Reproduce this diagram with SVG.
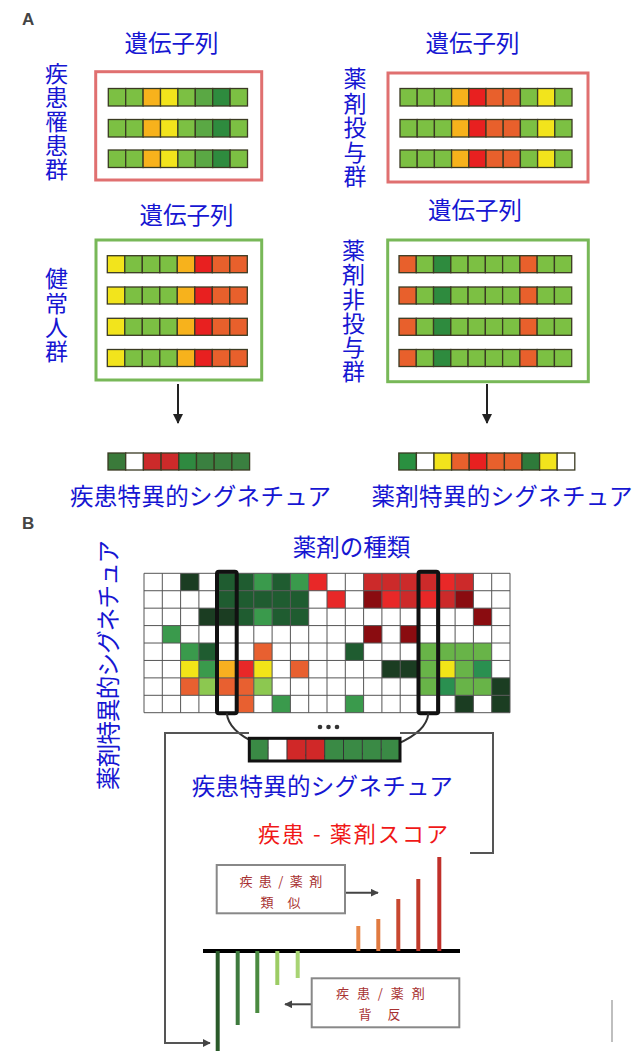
<svg xmlns="http://www.w3.org/2000/svg" width="638" height="1051" viewBox="0 0 638 1051">
<style>
.bt{font-family:"Noto Sans CJK JP","Noto Sans",sans-serif;font-size:23.5px;fill:#1616d2}
.vt{font-family:"Noto Sans CJK JP","Noto Sans",sans-serif;font-size:23px;fill:#1616d2;writing-mode:vertical-rl}
.rt{font-family:"Noto Sans CJK JP","Noto Sans",sans-serif;font-size:22px;fill:#f01818}
.bx{font-family:"Noto Sans CJK JP","Noto Sans",sans-serif;font-size:13px;fill:#a83232;text-anchor:middle}
.lbl{font-family:"Liberation Sans",Arial,sans-serif;font-size:17px;font-weight:bold;fill:#444}
.cl rect{stroke:#3a3a22;stroke-width:1.3}
.lg{fill:#7cc043}.mg{fill:#5aa844}.dg{fill:#2e8b3e}.or{fill:#f7b21c}.ye{fill:#f2e41c}.rd{fill:#e82020}.orr{fill:#e8602c}.wh{fill:#ffffff}
.hm rect{stroke:none}
.vd{fill:#1b3d22}.hdg{fill:#1f5c30}.hmg{fill:#3a9a4c}.hbr{fill:#e82828}.hrd{fill:#cc2a2a}.hmr{fill:#8a0c10}.hlg{fill:#68b448}.hll{fill:#8cc850}.hg2{fill:#2a9050}.hye{fill:#f2e418}.hor{fill:#f8b020}.hoo{fill:#e86030}
.conn{fill:none;stroke:#555;stroke-width:2}
</style>
<defs>
<marker id="ah" viewBox="0 0 10 10" refX="9" refY="5" markerWidth="5" markerHeight="5" orient="auto"><path d="M0,0 L10,5 L0,10 z" fill="#222"/></marker>
<marker id="ah2" viewBox="0 0 10 10" refX="9" refY="5" markerWidth="4" markerHeight="4" orient="auto"><path d="M0,0 L10,5 L0,10 z" fill="#444"/></marker>
</defs>
<rect width="638" height="1051" fill="#ffffff"/>
<text class="lbl" x="22" y="25">A</text>
<text class="lbl" x="22" y="529">B</text>

<g id="disease-group">
<text class="bt" x="171.5" y="51.5" text-anchor="middle">遺伝子列</text>
<text class="vt" x="56.5" y="62" letter-spacing="1">疾患罹患群</text>
<rect x="95.7" y="71.7" width="166" height="108.3" fill="#fff" stroke="#e07070" stroke-width="3"/>
<g class="cl">
<g transform="translate(108.3,88.5)"><rect class="lg" x="0" width="17.4" height="17.5"/><rect class="lg" x="17.4" width="17.4" height="17.5"/><rect class="or" x="34.8" width="17.4" height="17.5"/><rect class="ye" x="52.2" width="17.4" height="17.5"/><rect class="lg" x="69.6" width="17.4" height="17.5"/><rect class="mg" x="87" width="17.4" height="17.5"/><rect class="dg" x="104.4" width="17.4" height="17.5"/><rect class="lg" x="121.8" width="17.4" height="17.5"/></g>
<g transform="translate(108.3,119.5)"><rect class="lg" x="0" width="17.4" height="17.5"/><rect class="lg" x="17.4" width="17.4" height="17.5"/><rect class="or" x="34.8" width="17.4" height="17.5"/><rect class="ye" x="52.2" width="17.4" height="17.5"/><rect class="lg" x="69.6" width="17.4" height="17.5"/><rect class="mg" x="87" width="17.4" height="17.5"/><rect class="dg" x="104.4" width="17.4" height="17.5"/><rect class="lg" x="121.8" width="17.4" height="17.5"/></g>
<g transform="translate(108.3,150)"><rect class="lg" x="0" width="17.4" height="17.5"/><rect class="lg" x="17.4" width="17.4" height="17.5"/><rect class="or" x="34.8" width="17.4" height="17.5"/><rect class="ye" x="52.2" width="17.4" height="17.5"/><rect class="lg" x="69.6" width="17.4" height="17.5"/><rect class="mg" x="87" width="17.4" height="17.5"/><rect class="dg" x="104.4" width="17.4" height="17.5"/><rect class="lg" x="121.8" width="17.4" height="17.5"/></g>
</g>
</g>

<g id="drug-group">
<text class="bt" x="472.5" y="51.5" text-anchor="middle">遺伝子列</text>
<text class="vt" x="355" y="67" letter-spacing="1.5">薬剤投与群</text>
<rect x="388" y="73" width="200" height="109" fill="#fff" stroke="#e07070" stroke-width="3"/>
<g class="cl">
<g transform="translate(400,88.5)"><rect class="lg" x="0" width="17.2" height="17.5"/><rect class="lg" x="17.2" width="17.2" height="17.5"/><rect class="lg" x="34.4" width="17.2" height="17.5"/><rect class="or" x="51.6" width="17.2" height="17.5"/><rect class="rd" x="68.8" width="17.2" height="17.5"/><rect class="orr" x="86" width="17.2" height="17.5"/><rect class="orr" x="103.2" width="17.2" height="17.5"/><rect class="lg" x="120.4" width="17.2" height="17.5"/><rect class="ye" x="137.6" width="17.2" height="17.5"/><rect class="lg" x="154.8" width="17.2" height="17.5"/></g>
<g transform="translate(400,119.5)"><rect class="lg" x="0" width="17.2" height="17.5"/><rect class="lg" x="17.2" width="17.2" height="17.5"/><rect class="lg" x="34.4" width="17.2" height="17.5"/><rect class="or" x="51.6" width="17.2" height="17.5"/><rect class="rd" x="68.8" width="17.2" height="17.5"/><rect class="orr" x="86" width="17.2" height="17.5"/><rect class="orr" x="103.2" width="17.2" height="17.5"/><rect class="lg" x="120.4" width="17.2" height="17.5"/><rect class="ye" x="137.6" width="17.2" height="17.5"/><rect class="lg" x="154.8" width="17.2" height="17.5"/></g>
<g transform="translate(400,150)"><rect class="lg" x="0" width="17.2" height="17.5"/><rect class="lg" x="17.2" width="17.2" height="17.5"/><rect class="lg" x="34.4" width="17.2" height="17.5"/><rect class="or" x="51.6" width="17.2" height="17.5"/><rect class="rd" x="68.8" width="17.2" height="17.5"/><rect class="orr" x="86" width="17.2" height="17.5"/><rect class="orr" x="103.2" width="17.2" height="17.5"/><rect class="lg" x="120.4" width="17.2" height="17.5"/><rect class="ye" x="137.6" width="17.2" height="17.5"/><rect class="lg" x="154.8" width="17.2" height="17.5"/></g>
</g>
</g>

<g id="healthy-group">
<text class="bt" x="186.5" y="223.5" text-anchor="middle">遺伝子列</text>
<text class="vt" x="56.5" y="267" letter-spacing="1.3">健常人群</text>
<rect x="96" y="240" width="165.7" height="140" fill="#fff" stroke="#78b858" stroke-width="3"/>
<g class="cl">
<g transform="translate(107.3,255.7)"><rect class="ye" x="0" width="17.5" height="17"/><rect class="lg" x="17.5" width="17.5" height="17"/><rect class="lg" x="35" width="17.5" height="17"/><rect class="lg" x="52.5" width="17.5" height="17"/><rect class="or" x="70" width="17.5" height="17"/><rect class="rd" x="87.5" width="17.5" height="17"/><rect class="orr" x="105" width="17.5" height="17"/><rect class="orr" x="122.5" width="17.5" height="17"/></g>
<g transform="translate(107.3,287)"><rect class="ye" x="0" width="17.5" height="17"/><rect class="lg" x="17.5" width="17.5" height="17"/><rect class="lg" x="35" width="17.5" height="17"/><rect class="lg" x="52.5" width="17.5" height="17"/><rect class="or" x="70" width="17.5" height="17"/><rect class="rd" x="87.5" width="17.5" height="17"/><rect class="orr" x="105" width="17.5" height="17"/><rect class="orr" x="122.5" width="17.5" height="17"/></g>
<g transform="translate(107.3,318.3)"><rect class="ye" x="0" width="17.5" height="17"/><rect class="lg" x="17.5" width="17.5" height="17"/><rect class="lg" x="35" width="17.5" height="17"/><rect class="lg" x="52.5" width="17.5" height="17"/><rect class="or" x="70" width="17.5" height="17"/><rect class="rd" x="87.5" width="17.5" height="17"/><rect class="orr" x="105" width="17.5" height="17"/><rect class="orr" x="122.5" width="17.5" height="17"/></g>
<g transform="translate(107.3,349.5)"><rect class="ye" x="0" width="17.5" height="17"/><rect class="lg" x="17.5" width="17.5" height="17"/><rect class="lg" x="35" width="17.5" height="17"/><rect class="lg" x="52.5" width="17.5" height="17"/><rect class="or" x="70" width="17.5" height="17"/><rect class="rd" x="87.5" width="17.5" height="17"/><rect class="orr" x="105" width="17.5" height="17"/><rect class="orr" x="122.5" width="17.5" height="17"/></g>
</g>
</g>

<g id="nondrug-group">
<text class="bt" x="475" y="218.5" text-anchor="middle">遺伝子列</text>
<text class="vt" x="353.5" y="239" letter-spacing="1.2">薬剤非投与群</text>
<rect x="387.7" y="240" width="200.6" height="141.7" fill="#fff" stroke="#78b858" stroke-width="3"/>
<g class="cl">
<g transform="translate(399,255.7)"><rect class="orr" x="0" width="17.27" height="17"/><rect class="lg" x="17.27" width="17.27" height="17"/><rect class="dg" x="34.54" width="17.27" height="17"/><rect class="lg" x="51.81" width="17.27" height="17"/><rect class="lg" x="69.08" width="17.27" height="17"/><rect class="lg" x="86.35" width="17.27" height="17"/><rect class="lg" x="103.62" width="17.27" height="17"/><rect class="orr" x="120.89" width="17.27" height="17"/><rect class="lg" x="138.16" width="17.27" height="17"/><rect class="lg" x="155.43" width="17.27" height="17"/></g>
<g transform="translate(399,287)"><rect class="orr" x="0" width="17.27" height="17"/><rect class="lg" x="17.27" width="17.27" height="17"/><rect class="dg" x="34.54" width="17.27" height="17"/><rect class="lg" x="51.81" width="17.27" height="17"/><rect class="lg" x="69.08" width="17.27" height="17"/><rect class="lg" x="86.35" width="17.27" height="17"/><rect class="lg" x="103.62" width="17.27" height="17"/><rect class="orr" x="120.89" width="17.27" height="17"/><rect class="lg" x="138.16" width="17.27" height="17"/><rect class="lg" x="155.43" width="17.27" height="17"/></g>
<g transform="translate(399,318.3)"><rect class="orr" x="0" width="17.27" height="17"/><rect class="lg" x="17.27" width="17.27" height="17"/><rect class="dg" x="34.54" width="17.27" height="17"/><rect class="lg" x="51.81" width="17.27" height="17"/><rect class="lg" x="69.08" width="17.27" height="17"/><rect class="lg" x="86.35" width="17.27" height="17"/><rect class="lg" x="103.62" width="17.27" height="17"/><rect class="orr" x="120.89" width="17.27" height="17"/><rect class="lg" x="138.16" width="17.27" height="17"/><rect class="lg" x="155.43" width="17.27" height="17"/></g>
<g transform="translate(399,349.5)"><rect class="orr" x="0" width="17.27" height="17"/><rect class="lg" x="17.27" width="17.27" height="17"/><rect class="dg" x="34.54" width="17.27" height="17"/><rect class="lg" x="51.81" width="17.27" height="17"/><rect class="lg" x="69.08" width="17.27" height="17"/><rect class="lg" x="86.35" width="17.27" height="17"/><rect class="lg" x="103.62" width="17.27" height="17"/><rect class="orr" x="120.89" width="17.27" height="17"/><rect class="lg" x="138.16" width="17.27" height="17"/><rect class="lg" x="155.43" width="17.27" height="17"/></g>
</g>
</g>

<g id="disease-signature">
<g class="cl" transform="translate(108,453)"><rect fill="#3a7a3a" x="0" width="17.7" height="17"/><rect class="wh" x="17.7" width="17.7" height="17"/><rect fill="#cc2a2a" x="35.4" width="17.7" height="17"/><rect fill="#cc2a2a" x="53.1" width="17.7" height="17"/><rect fill="#2f8a40" x="70.8" width="17.7" height="17"/><rect fill="#3a8040" x="88.5" width="17.7" height="17"/><rect fill="#3a8040" x="106.2" width="17.7" height="17"/><rect fill="#3a8040" x="123.9" width="17.7" height="17"/></g>
<text class="bt" x="200.5" y="504.5" text-anchor="middle" textLength="261">疾患特異的シグネチュア</text>
</g>
<g id="drug-signature">
<g class="cl" transform="translate(398.8,453)"><rect fill="#2a9040" x="0" width="17.6" height="17"/><rect class="wh" x="17.6" width="17.6" height="17"/><rect class="ye" x="35.2" width="17.6" height="17"/><rect class="orr" x="52.8" width="17.6" height="17"/><rect class="rd" x="70.4" width="17.6" height="17"/><rect class="orr" x="88" width="17.6" height="17"/><rect class="orr" x="105.6" width="17.6" height="17"/><rect fill="#2e7a3a" x="123.2" width="17.6" height="17"/><rect class="ye" x="140.8" width="17.6" height="17"/><rect class="wh" x="158.4" width="17.6" height="17"/></g>
<text class="bt" x="502" y="504.5" text-anchor="middle" textLength="261">薬剤特異的シグネチュア</text>
</g>

<g id="heatmap">
<text class="bt" x="351.5" y="555.5" text-anchor="middle">薬剤の種類</text>
<text class="bt" transform="translate(117,665) rotate(-90)" text-anchor="middle" textLength="250">薬剤特異的シグネチュア</text>
<rect x="144" y="573.3" width="366" height="139.4" fill="#fff"/>
<g class="hm" transform="translate(144,573.3)">
<rect class="vd" x="36.6" y="0" width="18.3" height="17.43"/><rect class="hdg" x="73.2" y="0" width="18.3" height="17.43"/><rect class="hdg" x="91.5" y="0" width="18.3" height="17.43"/><rect class="hmg" x="109.8" y="0" width="18.3" height="17.43"/><rect class="hdg" x="128.1" y="0" width="18.3" height="17.43"/><rect class="hmg" x="146.4" y="0" width="18.3" height="17.43"/><rect class="hbr" x="164.7" y="0" width="18.3" height="17.43"/><rect class="hrd" x="219.6" y="0" width="18.3" height="17.43"/><rect class="hrd" x="237.9" y="0" width="18.3" height="17.43"/><rect class="hrd" x="256.2" y="0" width="18.3" height="17.43"/><rect class="hrd" x="274.5" y="0" width="18.3" height="17.43"/><rect class="hbr" x="292.8" y="0" width="18.3" height="17.43"/><rect class="hrd" x="311.1" y="0" width="18.3" height="17.43"/>
<rect class="hdg" x="73.2" y="17.43" width="18.3" height="17.43"/><rect class="hdg" x="91.5" y="17.43" width="18.3" height="17.43"/><rect class="hdg" x="109.8" y="17.43" width="18.3" height="17.43"/><rect class="hdg" x="128.1" y="17.43" width="18.3" height="17.43"/><rect class="hdg" x="146.4" y="17.43" width="18.3" height="17.43"/><rect class="hbr" x="183" y="17.43" width="18.3" height="17.43"/><rect class="hmr" x="219.6" y="17.43" width="18.3" height="17.43"/><rect class="hbr" x="237.9" y="17.43" width="18.3" height="17.43"/><rect class="hrd" x="256.2" y="17.43" width="18.3" height="17.43"/><rect class="hbr" x="274.5" y="17.43" width="18.3" height="17.43"/><rect class="hrd" x="292.8" y="17.43" width="18.3" height="17.43"/><rect class="hmr" x="311.1" y="17.43" width="18.3" height="17.43"/>
<rect class="vd" x="54.9" y="34.86" width="18.3" height="17.43"/><rect class="vd" x="73.2" y="34.86" width="18.3" height="17.43"/><rect class="hdg" x="91.5" y="34.86" width="18.3" height="17.43"/><rect class="hmg" x="109.8" y="34.86" width="18.3" height="17.43"/><rect class="hdg" x="128.1" y="34.86" width="18.3" height="17.43"/><rect class="hdg" x="146.4" y="34.86" width="18.3" height="17.43"/><rect class="hmr" x="329.4" y="34.86" width="18.3" height="17.43"/>
<rect class="hmg" x="18.3" y="52.29" width="18.3" height="17.43"/><rect class="hmr" x="219.6" y="52.29" width="18.3" height="17.43"/><rect class="hmr" x="256.2" y="52.29" width="18.3" height="17.43"/>
<rect class="hmg" x="36.6" y="69.72" width="18.3" height="17.43"/><rect class="hdg" x="54.9" y="69.72" width="18.3" height="17.43"/><rect class="hoo" x="109.8" y="69.72" width="18.3" height="17.43"/><rect class="hdg" x="201.3" y="69.72" width="18.3" height="17.43"/><rect class="hlg" x="274.5" y="69.72" width="18.3" height="17.43"/><rect class="hlg" x="292.8" y="69.72" width="18.3" height="17.43"/><rect class="hlg" x="311.1" y="69.72" width="18.3" height="17.43"/><rect class="hlg" x="329.4" y="69.72" width="18.3" height="17.43"/>
<rect class="hye" x="36.6" y="87.15" width="18.3" height="17.43"/><rect class="hmg" x="54.9" y="87.15" width="18.3" height="17.43"/><rect class="hor" x="73.2" y="87.15" width="18.3" height="17.43"/><rect class="hbr" x="91.5" y="87.15" width="18.3" height="17.43"/><rect class="hye" x="109.8" y="87.15" width="18.3" height="17.43"/><rect class="hoo" x="146.4" y="87.15" width="18.3" height="17.43"/><rect class="vd" x="237.9" y="87.15" width="18.3" height="17.43"/><rect class="vd" x="256.2" y="87.15" width="18.3" height="17.43"/><rect class="hlg" x="274.5" y="87.15" width="18.3" height="17.43"/><rect class="hye" x="292.8" y="87.15" width="18.3" height="17.43"/><rect class="hlg" x="311.1" y="87.15" width="18.3" height="17.43"/><rect class="hg2" x="329.4" y="87.15" width="18.3" height="17.43"/>
<rect class="hoo" x="36.6" y="104.58" width="18.3" height="17.43"/><rect class="hll" x="54.9" y="104.58" width="18.3" height="17.43"/><rect class="hoo" x="73.2" y="104.58" width="18.3" height="17.43"/><rect class="hoo" x="91.5" y="104.58" width="18.3" height="17.43"/><rect class="hll" x="109.8" y="104.58" width="18.3" height="17.43"/><rect class="hlg" x="274.5" y="104.58" width="18.3" height="17.43"/><rect class="hg2" x="292.8" y="104.58" width="18.3" height="17.43"/><rect class="hlg" x="311.1" y="104.58" width="18.3" height="17.43"/><rect class="hlg" x="329.4" y="104.58" width="18.3" height="17.43"/><rect class="vd" x="347.7" y="104.58" width="18.3" height="17.43"/>
<rect class="hoo" x="91.5" y="122.01" width="18.3" height="17.43"/><rect class="hmg" x="128.1" y="122.01" width="18.3" height="17.43"/><rect class="hmg" x="201.3" y="122.01" width="18.3" height="17.43"/><rect class="vd" x="311.1" y="122.01" width="18.3" height="17.43"/><rect class="vd" x="347.7" y="122.01" width="18.3" height="17.43"/>
<path d="M0,0V139.4M18.3,0V139.4M36.6,0V139.4M54.9,0V139.4M73.2,0V139.4M91.5,0V139.4M109.8,0V139.4M128.1,0V139.4M146.4,0V139.4M164.7,0V139.4M183,0V139.4M201.3,0V139.4M219.6,0V139.4M237.9,0V139.4M256.2,0V139.4M274.5,0V139.4M292.8,0V139.4M311.1,0V139.4M329.4,0V139.4M347.7,0V139.4M366,0V139.4M0,0H366M0,17.43H366M0,34.86H366M0,52.29H366M0,69.72H366M0,87.15H366M0,104.58H366M0,122.01H366M0,139.4H366" stroke="#555" stroke-width="1" fill="none"/>
</g>
<rect x="217" y="571.7" width="19.7" height="141.6" rx="2" fill="none" stroke="#111" stroke-width="4"/>
<rect x="418.5" y="571.7" width="19.7" height="141.6" rx="2" fill="none" stroke="#111" stroke-width="4"/>
</g>

<g id="connectors">
<line x1="178" y1="384" x2="178" y2="423" stroke="#222" stroke-width="2" marker-end="url(#ah)"/>
<line x1="487" y1="384" x2="487" y2="423" stroke="#222" stroke-width="2" marker-end="url(#ah)"/>
<path d="M226.8,713.3 A100.9,45 0 0 0 428.4,713.3" fill="none" stroke="#333" stroke-width="2"/>
<path class="conn" d="M249,733 H165 V1043 H210" marker-end="url(#ah2)"/>
<path class="conn" d="M400,733 H493 V853 H470"/>
<line x1="345" y1="892.7" x2="378" y2="892.7" stroke="#444" stroke-width="2" marker-end="url(#ah2)"/>
<line x1="311.7" y1="1004.3" x2="285" y2="1004.3" stroke="#444" stroke-width="2" marker-end="url(#ah2)"/>
</g>

<g id="combined-signature">
<circle cx="320" cy="727" r="2.3" fill="#333"/><circle cx="328.5" cy="727" r="2.3" fill="#333"/><circle cx="337" cy="727" r="2.3" fill="#333"/>
<g transform="translate(249.3,738.3)"><rect fill="#3a8a45" x="0" width="18.84" height="22.7"/><rect fill="#fff" x="18.84" width="18.84" height="22.7"/><rect fill="#d02828" x="37.68" width="18.84" height="22.7"/><rect fill="#d02828" x="56.52" width="18.84" height="22.7"/><rect fill="#3a8a45" x="75.36" width="18.84" height="22.7"/><rect fill="#3a8a45" x="94.2" width="18.84" height="22.7"/><rect fill="#3a8a45" x="113.04" width="18.84" height="22.7"/><rect fill="#3a8a45" x="131.88" width="18.84" height="22.7"/><path d="M18.84,0V22.7M37.68,0V22.7M56.52,0V22.7M75.36,0V22.7M94.2,0V22.7M113.04,0V22.7M131.88,0V22.7" stroke="#333" stroke-width="1"/><rect x="0" y="0" width="150.7" height="22.7" fill="none" stroke="#111" stroke-width="3"/></g>
<text class="bt" x="322.3" y="795" text-anchor="middle" textLength="261">疾患特異的シグネチュア</text>
<text class="rt" x="353" y="842" text-anchor="middle" textLength="190">疾患 - 薬剤スコア</text>
</g>

<g id="score-chart">
<line x1="203" y1="951" x2="460" y2="951" stroke="#000" stroke-width="4"/>
<g stroke-width="4">
<line x1="358.3" y1="951" x2="358.3" y2="926" stroke="#e8884a"/>
<line x1="378.3" y1="951" x2="378.3" y2="919" stroke="#e07a40"/>
<line x1="398.3" y1="951" x2="398.3" y2="899" stroke="#c84830"/>
<line x1="418.3" y1="951" x2="418.3" y2="879" stroke="#c03a2a"/>
<line x1="439.3" y1="951" x2="439.3" y2="857" stroke="#c0302a"/>
<line x1="217.7" y1="951" x2="217.7" y2="1051" stroke="#2a5a2a"/>
<line x1="237.7" y1="951" x2="237.7" y2="1025" stroke="#3e7a3e"/>
<line x1="257.3" y1="951" x2="257.3" y2="1013" stroke="#4a8a40"/>
<line x1="277.3" y1="951" x2="277.3" y2="985" stroke="#9ccc64"/>
<line x1="297.7" y1="951" x2="297.7" y2="978" stroke="#a8d474"/>
</g>
</g>
<g id="similar-box">
<rect x="216.7" y="865" width="128.3" height="48.3" fill="#fff" stroke="#888" stroke-width="2"/>
<text class="bx"><tspan x="284" y="886" letter-spacing="6.4">疾患/薬剤</tspan><tspan x="287.5" y="906.5" letter-spacing="14">類似</tspan></text>
</g>
<g id="opposite-box">
<rect x="311.7" y="978.3" width="147.6" height="49" fill="#fff" stroke="#888" stroke-width="2"/>
<text class="bx"><tspan x="384.3" y="998" letter-spacing="7.9">疾患/薬剤</tspan><tspan x="387.5" y="1018.5" letter-spacing="16">背反</tspan></text>
</g>
<line x1="612" y1="1000" x2="612" y2="1042" stroke="#aaa" stroke-width="1.5"/>
</svg>
